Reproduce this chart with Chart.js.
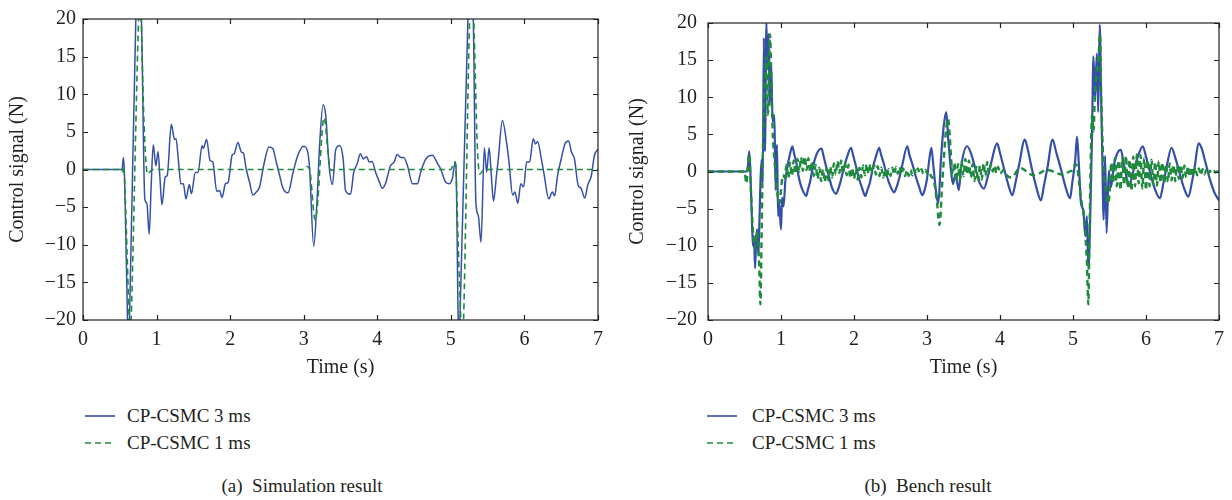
<!DOCTYPE html>
<html>
<head>
<meta charset="utf-8">
<script src="https://cdn.jsdelivr.net/npm/chart.js@4.4.1/dist/chart.umd.min.js"></script>
<style>
  html, body { margin: 0; padding: 0; background: #fff; }
  #wrap { position: relative; width: 1232px; height: 500px; background: #fff; overflow: hidden; font-family: 'Liberation Serif', 'DejaVu Serif', serif; color: #231f20; }
  canvas { position: absolute; top: 0; }
  .leg { position: absolute; font-size: 19px; line-height: 22px; white-space: nowrap; }
  .leg svg { position: absolute; }
  .cap { position: absolute; font-size: 19px; line-height: 22px; white-space: nowrap; transform: translateX(-50%); }
</style>
</head>
<body>
<div id="wrap">
  <canvas id="c1" width="616" height="380" style="left:0"></canvas>
  <canvas id="c2" width="616" height="380" style="left:616px"></canvas>
</div>
<script>
// ---------------- data ----------------
const seriesNames = ['CP-CSMC 3 ms', 'CP-CSMC 1 ms'];
const captions = ['(a)\u00a0 Simulation result', '(b)\u00a0 Bench result'];
const xTitle = 'Time (s)';
const yTitle = 'Control signal (N)';
const xTickLabels = ['0', '1', '2', '3', '4', '5', '6', '7'];
const yTickLabels = ['\u221220', '\u221215', '\u221210', '\u22125', '0', '5', '10', '15', '20'];

// (a) Simulation, CP-CSMC 3 ms
const simTimeBlue = [0, 0.53, 0.55, 0.565, 0.605, 0.618, 0.632, 0.718, 0.757, 0.795, 0.84, 0.868, 0.9, 0.927, 0.955, 0.99, 1.02, 1.045, 1.073, 1.118, 1.145, 1.2, 1.245, 1.264, 1.295, 1.33, 1.364, 1.4, 1.445, 1.473, 1.527, 1.564, 1.618, 1.636, 1.68, 1.727, 1.764, 1.818, 1.855, 1.89, 1.936, 1.973, 2.027, 2.055, 2.105, 2.155, 2.18, 2.218, 2.264, 2.31, 2.355, 2.4, 2.455, 2.527, 2.58, 2.627, 2.673, 2.718, 2.786, 2.855, 2.92, 3.0, 3.055, 3.08, 3.136, 3.18, 3.218, 3.264, 3.3, 3.345, 3.39, 3.436, 3.49, 3.536, 3.568, 3.636, 3.68, 3.727, 3.77, 3.81, 3.855, 3.89, 3.93, 3.977, 4.02, 4.07, 4.11, 4.18, 4.23, 4.27, 4.32, 4.36, 4.41, 4.48, 4.545, 4.59, 4.66, 4.75, 4.82, 4.86, 4.93, 4.98, 5.02, 5.06, 5.07, 5.1, 5.11, 5.123, 5.232, 5.268, 5.305, 5.34, 5.373, 5.41, 5.455, 5.486, 5.52, 5.55, 5.58, 5.62, 5.645, 5.7, 5.76, 5.79, 5.84, 5.87, 5.91, 5.95, 5.99, 6.03, 6.07, 6.12, 6.15, 6.18, 6.23, 6.27, 6.33, 6.38, 6.41, 6.45, 6.5, 6.55, 6.6, 6.64, 6.68, 6.73, 6.77, 6.82, 6.86, 6.91, 6.95, 7.0];
const simBlue = [0, 0, 1.6, -1, -20, -24, -20, 20, 28, 20, -3.9, -4.5, -8.6, -2, 3.3, 0.5, 2.4, -1, -4.7, -1.0, -0.8, 6.0, 4.0, 4.1, 1.4, -1.9, -1.9, -3.9, -2.0, -3.2, -0.4, -0.4, 3.2, 2.8, 4.0, 1.2, 1.0, -2.9, -2.8, -3.7, -1.9, -1.7, 1.9, 2.1, 3.6, 2.3, 2.2, 0.1, -1.7, -3.4, -3.0, -2.3, 0.5, 3.0, 2.8, 1.0, -0.8, -2.5, -3.1, -0.4, 1.9, 3.1, 2.3, 0.1, -10.2, -4.3, 3.6, 8.6, 7.1, 0.5, -2.0, 2.7, 3.2, 1.4, -2.8, -3.3, -0.35, 0.75, 2.1, 1.4, 1.7, 1.0, 1.05, -0.35, -1.45, -2.5, -1.9, 0.5, 1.0, 2.0, 1.6, 1.6, 0.5, -1.9, -1.9, -0.35, 1.4, 1.9, 0.75, 0.1, -1.7, -1.9, -1.2, 1.0, 0.3, -20, -23, -20, 20, 27, 20, -4.3, -6.1, -9.7, 2.9, -0.35, 2.9, -0.8, -4.2, -0.8, 1.4, 6.5, 3.4, 1.0, -3.4, -3.0, -4.5, -1.9, -2.3, 1.0, 1.0, 4.1, 3.4, 3.7, 1.4, -0.8, -3.9, -3.0, -3.5, -0.8, 1.4, 3.4, 3.8, 2.3, 1.4, -2.1, -2.5, -3.8, -2.1, -0.8, 1.8, 2.7];

// (a) Simulation, CP-CSMC 1 ms
const simTimeGreen = [0, 0.52, 0.535, 0.55, 0.565, 0.627, 0.64, 0.655, 0.755, 0.772, 0.79, 0.83, 0.877, 0.92, 0.95, 3.0, 3.04, 3.08, 3.155, 3.18, 3.277, 3.33, 3.36, 3.4, 3.45, 5.0, 5.045, 5.065, 5.1, 5.136, 5.155, 5.173, 5.255, 5.28, 5.31, 5.36, 5.395, 5.43, 5.46, 7.0];
const simGreen = [0, 0, -0.3, 0.5, -1.5, -20, -24, -20, 20, 24, 20, 6, -0.6, -0.2, 0, 0, 0.4, 0, -6.7, -5.5, 6.9, 2.3, 0, -0.1, 0, 0, 1.0, 0.5, -10, -20, -24, -20, 20, 25, 20, 3, -0.6, -0.2, 0, 0];

// (b) Bench, CP-CSMC 3 ms
const benchTimeBlue = [0, 0.53, 0.545, 0.565, 0.58, 0.6, 0.615, 0.63, 0.645, 0.66, 0.675, 0.69, 0.705, 0.72, 0.735, 0.75, 0.765, 0.78, 0.8, 0.815, 0.83, 0.845, 0.865, 0.885, 0.91, 0.925, 0.945, 0.96, 0.975, 1.0, 1.015, 1.035, 1.06, 1.09, 1.12, 1.155, 1.18, 1.21, 1.24, 1.27, 1.3, 1.345, 1.37, 1.4, 1.43, 1.46, 1.5, 1.555, 1.58, 1.62, 1.66, 1.7, 1.755, 1.78, 1.82, 1.86, 1.9, 1.96, 1.99, 2.03, 2.07, 2.11, 2.155, 2.18, 2.22, 2.26, 2.3, 2.345, 2.37, 2.41, 2.45, 2.5, 2.55, 2.58, 2.62, 2.66, 2.73, 2.76, 2.8, 2.85, 2.89, 2.936, 2.97, 3.0, 3.03, 3.06, 3.09, 3.127, 3.155, 3.19, 3.23, 3.264, 3.29, 3.32, 3.355, 3.39, 3.436, 3.47, 3.55, 3.6, 3.66, 3.72, 3.78, 3.83, 3.88, 3.96, 4.0, 4.06, 4.12, 4.17, 4.21, 4.26, 4.34, 4.38, 4.44, 4.5, 4.56, 4.6, 4.65, 4.72, 4.77, 4.83, 4.89, 4.96, 4.99, 5.03, 5.055, 5.08, 5.11, 5.14, 5.17, 5.19, 5.21, 5.235, 5.26, 5.28, 5.3, 5.327, 5.345, 5.366, 5.385, 5.4, 5.42, 5.44, 5.46, 5.49, 5.52, 5.56, 5.62, 5.655, 5.7, 5.77, 5.82, 5.9, 5.955, 6.0, 6.06, 6.12, 6.19, 6.24, 6.29, 6.35, 6.4, 6.46, 6.52, 6.58, 6.63, 6.67, 6.72, 6.76, 6.82, 6.88, 6.94, 7.0];
const benchBlue = [0, 0, 0.5, 2.7, 0.0, -6, -10, -8.7, -13, -9, -7.8, -11.3, -6.5, -1, 1.6, -1.5, 18, 2.7, 20, 14, 18.5, 8.9, 14.6, 6.7, 7.6, -2.5, 3.6, -6, -4.3, -7.8, -3.5, -4.7, -1.2, 0.8, 2.2, 3.4, 2.4, 1.2, -0.6, -1.8, -2.6, -3.3, -2.4, -1.3, 0.2, 1.5, 2.6, 3.1, 2.2, 0.6, -0.8, -2.2, -3.0, -2.5, -1.2, 0.4, 1.8, 3.2, 2.1, 0.6, -1.0, -2.2, -3.3, -2.6, -1.4, 0.6, 2.0, 3.2, 2.3, 1.0, -0.6, -2.0, -2.8, -2.2, -0.9, 0.8, 3.4, 2.2, 1.0, -0.8, -2.0, -3.2, -2.4, -1.0, 1.5, 3.2, 0.5, -3.0, -4.3, 1.4, 6.2, 8.0, 4.5, 1.0, -1.7, -0.4, -2.5, 0.8, 3.4, 2.5, 0.5, -1.5, -2.3, -0.8, 1.2, 3.8, 2.5, 0.2, -2.0, -3.2, -1.6, 0.8, 4.3, 3.0, 0.2, -2.2, -3.9, -2.0, 0.5, 4.3, 2.6, 0.5, -1.8, -3.6, -1.5, 1.5, 4.7, 1.0, -4.3, -5.2, -8.7, -6, -13.1, -6.5, 4.5, 15.5, 9.7, 15.9, 8.0, 19.8, 10.2, 2.7, -6.5, 2.1, -8.3, 0.1, -2.1, 0.8, 2.7, 2.9, 0.8, -1.9, -0.2, 2.3, 3.4, 2.0, -0.3, -2.3, -3.6, -1.5, 1.0, 3.2, 1.9, -0.2, -2.2, -3.4, -1.4, 0.8, 3.8, 3.2, 1.0, -1.2, -2.9, -3.9];

// (b) Bench, CP-CSMC 1 ms
const benchTimeGreen = [0, 0.5, 0.525, 0.545, 0.565, 0.59, 0.62, 0.645, 0.67, 0.7, 0.718, 0.735, 0.755, 0.775, 0.8, 0.82, 0.85, 0.87, 0.89, 0.915, 0.945, 0.98, 1.0, 1.025,
  1.05, 1.075, 1.1, 1.125, 1.15, 1.175, 1.2, 1.225, 1.25, 1.275, 1.3, 1.325, 1.35, 1.375, 1.4, 1.425, 1.45, 1.475, 1.5, 1.525, 1.55, 1.575, 1.6, 1.625, 1.65, 1.675, 1.7, 1.725, 1.75, 1.775, 1.8, 1.825, 1.85, 1.875, 1.9, 1.925, 1.95, 1.975,
  2.0, 2.025, 2.05, 2.075, 2.1, 2.125, 2.15, 2.175, 2.2, 2.225, 2.25, 2.275, 2.3, 2.325, 2.35, 2.375, 2.4, 2.425, 2.45, 2.475, 2.5, 2.525, 2.55, 2.575, 2.6, 2.625, 2.65, 2.675, 2.7, 2.725, 2.75, 2.775, 2.8, 2.825, 2.85, 2.875, 2.9, 2.925, 2.95, 2.975, 3.0, 3.025, 3.05,
  3.1, 3.14, 3.17, 3.185, 3.2, 3.23, 3.26, 3.29, 3.31, 3.33, 3.35,
  3.375, 3.4, 3.425, 3.45, 3.475, 3.5, 3.525, 3.55, 3.575, 3.6, 3.625, 3.65, 3.675, 3.7, 3.725, 3.75, 3.775, 3.8, 3.825, 3.85, 3.875, 3.9, 3.925, 3.95, 3.975, 4.0,
  4.05, 4.1, 4.15, 4.2, 4.25, 4.3, 4.35, 4.4, 4.45, 4.5, 4.55, 4.6, 4.65, 4.7, 4.75, 4.8, 4.85, 4.9, 4.95, 5.0, 5.04,
  5.06, 5.09, 5.12, 5.15, 5.17, 5.19, 5.21, 5.225, 5.24, 5.26, 5.28, 5.3, 5.32, 5.35, 5.37, 5.385, 5.4, 5.42, 5.45, 5.48, 5.5,
  5.525, 5.55, 5.575, 5.6, 5.625, 5.65, 5.675, 5.7, 5.725, 5.75, 5.775, 5.8, 5.825, 5.85, 5.875, 5.9, 5.925, 5.95, 5.975, 6.0, 6.025, 6.05, 6.075, 6.1, 6.125, 6.15, 6.175, 6.2, 6.225, 6.25, 6.275, 6.3, 6.325, 6.35, 6.375, 6.4, 6.425, 6.45, 6.475, 6.5, 6.525, 6.55, 6.575, 6.6, 6.625, 6.65, 6.675, 6.7, 6.725, 6.75, 6.775, 6.8, 6.825, 6.85, 6.875, 6.9, 6.925, 6.95, 6.975, 7.0];
const benchGreen = [0, 0, -1.6, 0.5, 2.3, -3, -8.7, -10.4, -8, -12.2, -17.9, -8, 4.5, 11, 15.5, 7.6, 18.5, 11, 4.5, 1, -2.5, -4.3, -2.5, -0.5,
  -0.8, 0.9, -0.9, 1.2, -0.6, 1.5, -0.3, 1.7, 0.0, 1.9, 0.1, 2.0, 0.2, 1.8, -0.1, 1.4, -0.6, 0.9, -1.0, 0.5, -1.3, 0.3, -1.4, 0.4, -1.2, 0.7, -0.8, 1.1, -0.4, 1.4, -0.2, 1.5, -0.3, 1.3, -0.5, 0.9, -0.9, 0.5,
  -1.0, 0.4, -1.1, 0.5, -0.8, 0.8, -0.5, 1.0, -0.3, 1.0, -0.2, 0.9, -0.4, 0.7, -0.6, 0.5, -0.8, 0.3, -0.8, 0.3, -0.6, 0.5, -0.4, 0.6, -0.3, 0.6, -0.4, 0.4, -0.6, 0.2, -0.6, 0.2, -0.5, 0.3, -0.3, 0.4, -0.2, 0.3, -0.3, 0.2, -0.2, 0.1, -0.5,
  -1.5, -4.5, -7.2, -6.0, -3.0, 1.5, 5.5, 7.1, 5.0, 1.8, -0.5,
  1.2, -1.3, 1.0, -1.2, 1.4, -0.6, 1.7, -0.4, 1.5, -0.8, 1.0, -1.3, 0.6, -1.4, 0.8, -1.1, 1.1, -0.6, 1.3, -0.2, 1.0, 0.0, 0.8, -0.2, 0.6, -0.3,
  0.2, -0.6, -0.8, -0.4, 0.3, 0.4, 0.1, -0.3, -0.5, -0.4, -0.2, 0.1, 0.2, 0.1, -0.1, -0.3, -0.4, -0.3, 0.0, 0.2, 1.0,
  0.5, -2.0, -4.3, -6.0, -8.7, -12.0, -17.9, -9.0, -0.1, 7.6, 5.4, 10.2, 13.0, 15.5, 18.5, 10.6, 5.4, 0.1, -2.5, -4.3, -3.0,
  1.2, -1.5, 1.8, -2.0, 1.5, -2.5, 1.9, -1.8, 2.1, -2.2, 1.6, -2.6, 2.0, -2.0, 2.3, -1.6, 2.2, -2.3, 1.8, -2.5, 1.5, -2.0, 1.6, -1.7, 1.3, -1.9, 1.4, -1.5, 1.2, -1.6, 1.0, -1.4, 1.1, -1.2, 0.9, -1.3, 0.8, -1.0, 0.9, -0.9, 0.8, -0.8, 0.7, -0.7, 0.6, -0.6, 0.6, -0.5, 0.4, -0.5, 0.3, -0.4, 0.2, -0.4, 0.1, -0.2, 0.1, -0.1, 0.0, 0.0];

// ---------------- styles ----------------
const BLUE = '#3450a6';
const GREEN = '#1f8a3e';
const AXIS = '#231f20';
const FONT = "'Liberation Serif', 'DejaVu Serif', serif";

function pts(xs, ys) { return xs.map((x, i) => ({ x: x, y: ys[i] })); }

const framePlugin = {
  id: 'frame',
  afterDraw(chart) {
    const { ctx, chartArea: a, scales } = chart;
    ctx.save();
    ctx.strokeStyle = AXIS;
    ctx.lineWidth = 1.2;
    ctx.strokeRect(a.left, a.top, a.right - a.left, a.bottom - a.top);
    const L = 5;
    ctx.beginPath();
    scales.x.ticks.forEach(t => {
      const px = Math.round(scales.x.getPixelForValue(t.value)) + 0.5;
      ctx.moveTo(px, a.bottom); ctx.lineTo(px, a.bottom - L);
      ctx.moveTo(px, a.top); ctx.lineTo(px, a.top + L);
    });
    scales.y.ticks.forEach(t => {
      const py = Math.round(scales.y.getPixelForValue(t.value)) + 0.5;
      ctx.moveTo(a.left, py); ctx.lineTo(a.left + L, py);
      ctx.moveTo(a.right, py); ctx.lineTo(a.right - L, py);
    });
    ctx.stroke();
    ctx.restore();
  }
};

function makeChart(id, blueX, blueY, greenX, greenY, cfg) {
  return new Chart(document.getElementById(id), {
    type: 'line',
    data: {
      datasets: [
        { label: seriesNames[1], data: pts(greenX, greenY), borderColor: GREEN, borderWidth: cfg.greenW, borderDash: [6, 4], pointRadius: 0, tension: cfg.tension, cubicInterpolationMode: 'monotone', fill: false, order: 0 },
        { label: seriesNames[0], data: pts(blueX, blueY), borderColor: BLUE, borderWidth: cfg.blueW, pointRadius: 0, tension: cfg.tension, cubicInterpolationMode: 'monotone', fill: false, order: 1 }
      ]
    },
    options: {
      responsive: false,
      animation: false,
      devicePixelRatio: 1,
      layout: { padding: { top: 16, right: cfg.padRight, bottom: 0, left: 0 } },
      plugins: { legend: { display: false }, tooltip: { enabled: false } },
      scales: {
        x: {
          type: 'linear', min: 0, max: 7,
          grid: { display: false, drawTicks: false },
          border: { display: false },
          ticks: { stepSize: 1, padding: 8, color: AXIS, font: { family: FONT, size: 20 },
                   callback: (v) => xTickLabels[Math.round(v)] },
          title: { display: true, text: xTitle, color: AXIS, font: { family: FONT, size: 20 }, padding: { top: 0, bottom: 0 } },
          afterFit(s) { s.height = 60; }
        },
        y: {
          type: 'linear', min: -20, max: 20,
          grid: { display: false, drawTicks: false },
          border: { display: false },
          ticks: { stepSize: 5, padding: cfg.yTickPad, color: AXIS, font: { family: FONT, size: 20 },
                   callback: (v) => yTickLabels[Math.round((v + 20) / 5)] },
          title: { display: true, text: yTitle, color: AXIS, font: { family: FONT, size: 20 }, padding: { top: cfg.yTitlePad, bottom: 0 } },
          afterFit(s) { s.width = cfg.yWidth; }
        }
      }
    },
    plugins: [framePlugin]
  });
}

makeChart('c1', simTimeBlue, simBlue, simTimeGreen, simGreen,
  { yWidth: 83, padRight: 18, yTitlePad: 6, yTickPad: 7, blueW: 1.5, greenW: 1.6, tension: 0.4 });
makeChart('c2', benchTimeBlue, benchBlue, benchTimeGreen, benchGreen,
  { yWidth: 92, padRight: 11, yTitlePad: 10, yTickPad: 11, blueW: 2.2, greenW: 2.4, tension: 0 });

// ---------------- legends and captions (HTML text) ----------------
const wrap = document.getElementById('wrap');
function addLegend(lineX, textX, rows) {
  rows.forEach((r, i) => {
    const y = rows.rowY[i];
    const svg = document.createElementNS('http://www.w3.org/2000/svg', 'svg');
    svg.setAttribute('width', '40'); svg.setAttribute('height', '6');
    svg.style.position = 'absolute'; svg.style.left = lineX + 'px'; svg.style.top = (y - 3) + 'px';
    const ln = document.createElementNS('http://www.w3.org/2000/svg', 'line');
    ln.setAttribute('x1', '0'); ln.setAttribute('x2', '30'); ln.setAttribute('y1', '3'); ln.setAttribute('y2', '3');
    ln.setAttribute('stroke', r.color); ln.setAttribute('stroke-width', '1.6');
    if (r.dash) ln.setAttribute('stroke-dasharray', '6,4');
    svg.appendChild(ln);
    wrap.appendChild(svg);
    const d = document.createElement('div');
    d.className = 'leg';
    d.textContent = r.name;
    d.style.left = textX + 'px';
    d.style.top = (y - 11) + 'px';
    wrap.appendChild(d);
  });
}
const legRows = [{ name: seriesNames[0], color: BLUE, dash: false }, { name: seriesNames[1], color: GREEN, dash: true }];
legRows.rowY = [416, 443];
addLegend(85, 127, legRows);
addLegend(707, 752, legRows);

function addCaption(text, cx) {
  const d = document.createElement('div');
  d.className = 'cap';
  d.textContent = text;
  d.style.left = cx + 'px';
  d.style.top = (486 - 11) + 'px';
  wrap.appendChild(d);
}
addCaption(captions[0], 302);
addCaption(captions[1], 928);
</script>
</body>
</html>
